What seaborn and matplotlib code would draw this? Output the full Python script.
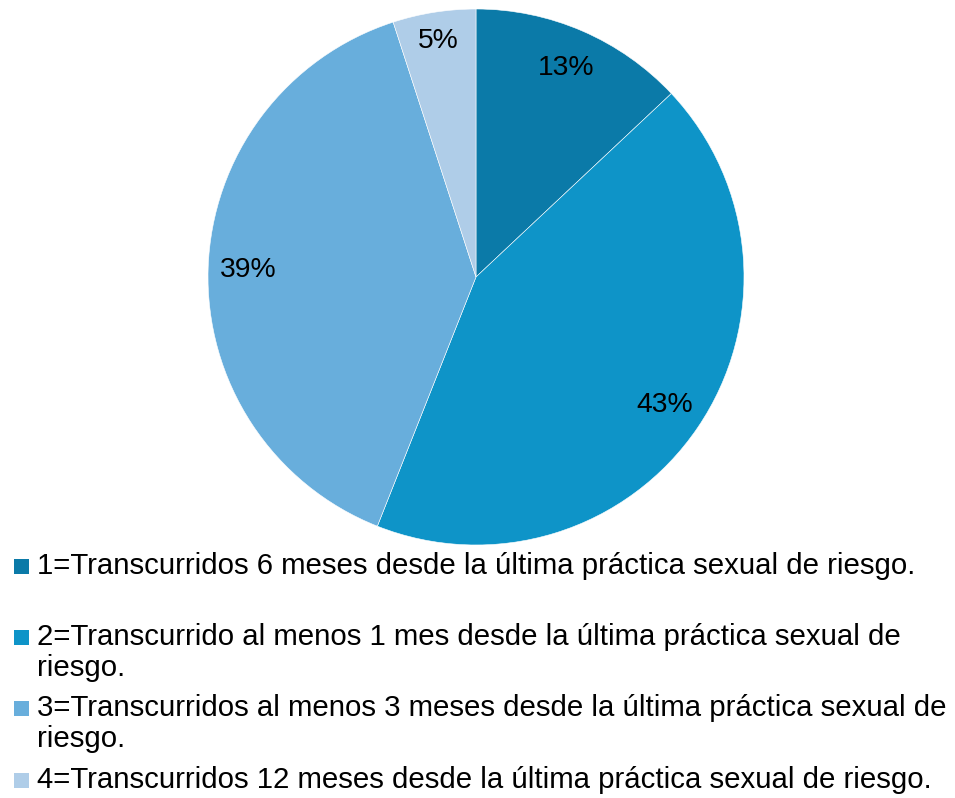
import matplotlib
matplotlib.use("Agg")
import matplotlib.pyplot as plt
import seaborn as sns
from matplotlib.patches import Rectangle

# Data
categories = [
    "1=Transcurridos 6 meses desde la última práctica sexual de riesgo.",
    "2=Transcurrido al menos 1 mes desde la última práctica sexual de\nriesgo.",
    "3=Transcurridos al menos 3 meses desde la última práctica sexual de\nriesgo.",
    "4=Transcurridos 12 meses desde la última práctica sexual de riesgo.",
]
percentages = [13, 43, 39, 5]
colors = ["#0b7aa8", "#0e94c8", "#68aedc", "#afcde8"]

sns.set_theme(style="white")
plt.rcParams['font.family'] = ['Liberation Sans', 'DejaVu Sans']

fig = plt.figure(figsize=(9.55, 7.98), dpi=100)

# Pie
ax = fig.add_axes([(476 - 268) / 955, (798 - 545) / 798, 536 / 955, 536 / 798])
palette = sns.color_palette(colors)
wedges, texts, autotexts = ax.pie(
    percentages, colors=palette, startangle=90, counterclock=False,
    autopct='%1.0f%%', pctdistance=0.85,
    wedgeprops=dict(edgecolor='white', linewidth=0.4),
    textprops=dict(fontsize=20.3, color='black'),
)
ax.set_aspect('equal')
ax.set_xlim(-1, 1)
ax.set_ylim(-1, 1)
ax.axis('off')

# small nudge of the 5% label, as in the original
x, y = autotexts[3].get_position()
autotexts[3].set_position((x * 1.05, y * 1.05))

# Legend (drawn manually to keep the original line layout)
legend_y = [566, 637, 708, 780]
line_step = 31
for label, col, ypix in zip(categories, palette, legend_y):
    yf = 1 - ypix / 798
    fig.patches.append(Rectangle((14 / 955, yf - 8 / 798), 15 / 955, 15 / 798,
                                 transform=fig.transFigure, facecolor=col,
                                 edgecolor='none'))
    for i, line in enumerate(label.split("\n")):
        fig.text(37 / 955, 1 - (ypix + i * line_step) / 798, line,
                 fontsize=21.2, va='center', ha='left', color='black')

fig.savefig("out.png", dpi=100)
